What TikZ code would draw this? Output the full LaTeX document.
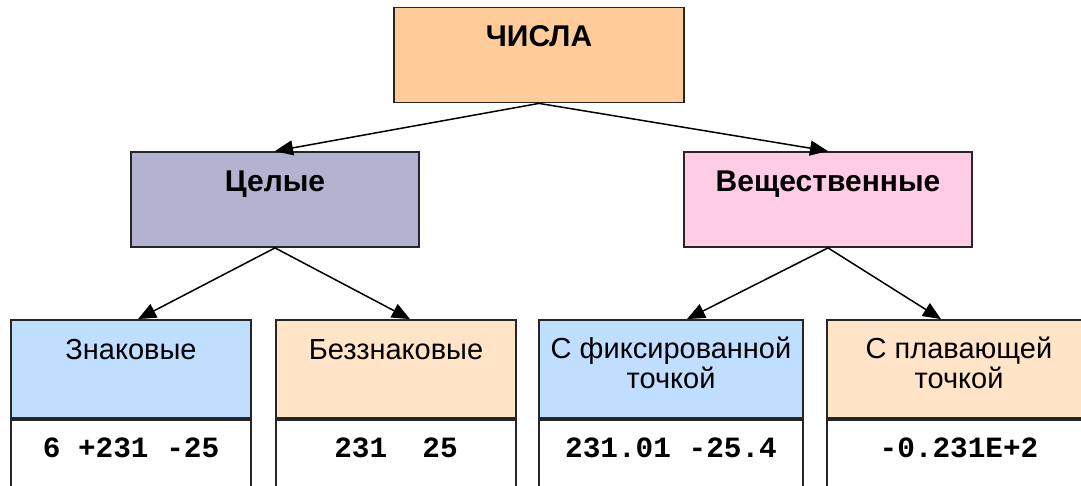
\documentclass[tikz,border=0pt]{standalone}
\usepackage{fontspec}
\setmainfont{Liberation Sans}
\setmonofont{Liberation Mono}
\usepackage{tikz}
\usetikzlibrary{arrows.meta,positioning}
\definecolor{peach}{HTML}{FFCC99}
\definecolor{lavender}{HTML}{B3B3D1}
\definecolor{pinkish}{HTML}{FFCCE6}
\definecolor{skyblue}{HTML}{C0DEFF}
\definecolor{lightpeach}{HTML}{FFE4C8}
\tikzstyle{block} = [rectangle, draw=black!85, line width=0.9pt, inner sep=0pt,
    minimum width=145pt, minimum height=47.5pt]
\tikzstyle{leaf} = [block, minimum width=120pt, minimum height=49pt]
\tikzstyle{numbox} = [rectangle, draw=black!85, line width=0.9pt, fill=white,
    inner sep=0pt, minimum height=41pt]
\tikzstyle{head} = [anchor=base, font=\bfseries\fontsize{15}{18}\selectfont]
\tikzstyle{kind} = [anchor=base, align=center, font=\fontsize{14.5}{15}\selectfont]
\tikzstyle{num} = [anchor=base, font=\ttfamily\bfseries\fontsize{14.7}{17}\selectfont]
\tikzstyle{line} = [draw, line width=0.75pt, -{Triangle[length=9pt,width=7.5pt]}]

\begin{document}
\begin{tikzpicture}[x=0.5pt,y=-0.5pt, node distance=0pt]
  \useasboundingbox (0,0) rectangle (1081,486);
  \clip (0,0) rectangle (1081,486);
  % nodes
  \node [block, fill=peach] (chisla) at (539,55) {};
  \node [block, fill=lavender, minimum width=144pt] (celye) at (275,199.5) {};
  \node [block, fill=pinkish, minimum width=144pt] (vesch) at (828,199.5) {};
  \node [leaf, fill=skyblue] (znak) at (131,369) {};
  \node [leaf, fill=lightpeach] (bezznak) at (396,369) {};
  \node [leaf, fill=skyblue, minimum width=132pt] (fix) at (671,369) {};
  \node [leaf, fill=lightpeach, minimum width=132pt] (float) at (959,369) {};
  \node [numbox, minimum width=120pt, below=of znak] (znaknum) {};
  \node [numbox, minimum width=120pt, below=of bezznak] (bezznaknum) {};
  \node [numbox, minimum width=132pt, below=of fix] (fixnum) {};
  \node [numbox, minimum width=132pt, below=of float] (floatnum) {};
  % texts
  \node [head] (chislatxt) at ([yshift=-20pt]chisla.north) {ЧИСЛА};
  \node [head] (celyetxt) at ([yshift=-20pt]celye.north) {Целые};
  \node [head] (veschtxt) at ([yshift=-20pt]vesch.north) {Вещественные};
  \node [kind] (znaktxt) at ([yshift=-20pt]znak.north) {Знаковые};
  \node [kind] (bezznaktxt) at ([yshift=-20pt]bezznak.north) {Беззнаковые};
  \node [kind] (fixtxt) at ([yshift=-34.5pt]fix.north) {С фиксированной\\точкой};
  \node [kind] (floattxt) at ([yshift=-34.5pt]float.north) {С плавающей\\точкой};
  \node [num] (znakval) at ([yshift=-19.5pt]znaknum.north) {6 +231 -25};
  \node [num] (bezznakval) at ([yshift=-19.5pt]bezznaknum.north) {231\ \ 25};
  \node [num] (fixval) at ([yshift=-19.5pt]fixnum.north) {231.01 -25.4};
  \node [num] (floatval) at ([yshift=-19.5pt]floatnum.north) {-0.231E+2};
  % edges
  \path [line] (chisla.south) -- (celye.north);
  \path [line] (chisla.south) -- (vesch.north);
  \path [line] (celye.south) -- ([xshift=3.5pt]znak.north);
  \path [line] (celye.south) -- ([xshift=7pt]bezznak.north);
  \path [line] (vesch.south) -- ([xshift=8pt]fix.north);
  \path [line] (vesch.south) -- ([xshift=-9pt]float.north);
\end{tikzpicture}
\end{document}
